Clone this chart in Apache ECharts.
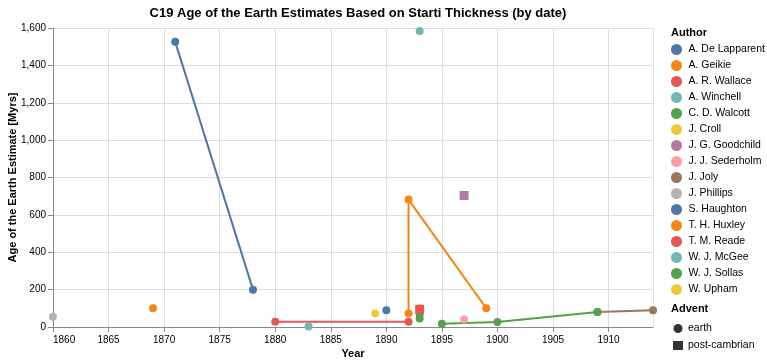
<!DOCTYPE html>
<html><head><meta charset="utf-8">
<script src="https://cdn.jsdelivr.net/npm/echarts@6/dist/echarts.min.js"></script>
<style>html,body{margin:0;padding:0;background:#fff}#c{width:767px;height:364px}</style>
</head><body><div id="c"></div>
<script>
const authors = ['A. De Lapparent','A. Geikie','A. R. Wallace','A. Winchell','C. D. Walcott','J. Croll','J. G. Goodchild','J. J. Sederholm','J. Joly','J. Phillips','S. Haughton','T. H. Huxley','T. M. Reade','W. J. McGee','W. J. Sollas','W. Upham'];
const colors = ['#4c78a8','#f58518','#e45756','#72b7b2','#54a24b','#eeca3b','#b279a2','#ff9da6','#9d755d','#bab0ac','#4c78a8','#f58518','#e45756','#72b7b2','#54a24b','#eeca3b'];
const years = [[1890],[1892,1892,1899],[1880,1892],[1883],[1893,1893],[1889],[1897],[1897],[1909,1914],[1860],[1871,1878],[1869],[1893],[1893],[1895,1900,1909],[1893]];
const ages = [[90],[72,682,100],[28,28],[3],[70,45],[72],[704],[40],[80,89],[55],[1526,200],[100],[95],[1584],[18,27,80],[100]];
const advent = [['earth'],['earth','earth','earth'],['earth','earth'],['earth'],['earth','earth'],['earth'],['post-cambrian'],['earth'],['earth','earth'],['earth'],['earth','earth'],['earth'],['post-cambrian'],['earth'],['earth','earth','earth'],['earth']];
const adventKinds = ['earth','post-cambrian'];
const yTicks = [0,200,400,600,800,1000,1200,1400,1600];

const FONT = '"Liberation Sans", Arial, Helvetica, sans-serif';
const drawOrder = [15].concat(authors.map((a,i)=>i).filter(i=>i!==15));
const series = drawOrder.map(i => ({
  name: authors[i], type: 'line',
  data: years[i].map((y,j) => ({value:[y, ages[i][j]], symbol: advent[i][j]==='earth'?'circle':'rect', symbolSize: advent[i][j]==='earth'?8:9})),
  itemStyle: {color: colors[i], opacity: 1},
  lineStyle: {color: colors[i], width: 2},
  showSymbol: true, showAllSymbol: true, animation: false, silent: true
}));
adventKinds.forEach((k,i)=>series.push({name:k,type:'scatter',data:[],itemStyle:{color:'#000'},symbol:i?'rect':'circle'}));

const chart = echarts.init(document.getElementById('c'), null, {renderer:'canvas'});
chart.setOption({
  animation: false,
  textStyle: {fontFamily: FONT},
  title: [
    {text:'C19 Age of the Earth Estimates Based on Starti Thickness (by date)', left:353, top:2, textAlign:'center', textStyle:{fontSize:13, fontWeight:'bold', color:'#000', fontFamily:FONT}},
    {text:'Author', left:666, top:22, textStyle:{fontSize:11, fontWeight:'bold', color:'#000', fontFamily:FONT}},
    {text:'Advent', left:666, top:298, textStyle:{fontSize:11, fontWeight:'bold', color:'#000', fontFamily:FONT}}
  ],
  grid: {left:53, right:114, top:28, bottom:37, containLabel:false, outerBoundsMode:'none'},
  legend: [
    {data: authors.map(a=>({name:a, icon:'circle'})), orient:'vertical', left:666, top:39, itemWidth:14, itemHeight:11, itemGap:5, selectedMode:false, textStyle:{fontSize:10.5, color:'#000', fontFamily:FONT}},
    {data: [{name:'earth', icon:'circle'},{name:'post-cambrian', icon:'rect'}], orient:'vertical', left:668, top:318, itemWidth:10, itemHeight:9, itemGap:6, selectedMode:false, textStyle:{fontSize:10.5, color:'#000', fontFamily:FONT}}
  ],
  xAxis: {
    type:'value', min:1860, max:1914, interval:5,
    name:'Year', nameLocation:'middle', nameGap:21, nameMoveOverlap:false,
    nameTextStyle:{fontSize:11, fontWeight:'bold', color:'#000', fontFamily:FONT},
    axisLine:{lineStyle:{color:'#888'}}, axisTick:{lineStyle:{color:'#888'}, length:5},
    axisLabel:{fontSize:10, color:'#000', showMaxLabel:false, alignMinLabel:'left', formatter:v=>String(v), margin:8},
    splitLine:{show:true, lineStyle:{color:'#ddd'}}
  },
  yAxis: {
    type:'value', min:yTicks[0], max:yTicks[yTicks.length-1], interval:200,
    name:'Age of the Earth Estimate [Myrs]', nameLocation:'middle', nameGap:35, nameMoveOverlap:false,
    nameTextStyle:{fontSize:11, fontWeight:'bold', color:'#000', fontFamily:FONT},
    axisLine:{show:true, lineStyle:{color:'#888'}}, axisTick:{show:true, lineStyle:{color:'#888'}, length:5},
    axisLabel:{fontSize:10, color:'#000', margin:7, formatter:v=>v.toLocaleString('en-US')},
    splitLine:{show:true, lineStyle:{color:'#ddd'}}
  },
  series: series
});
</script></body></html>
